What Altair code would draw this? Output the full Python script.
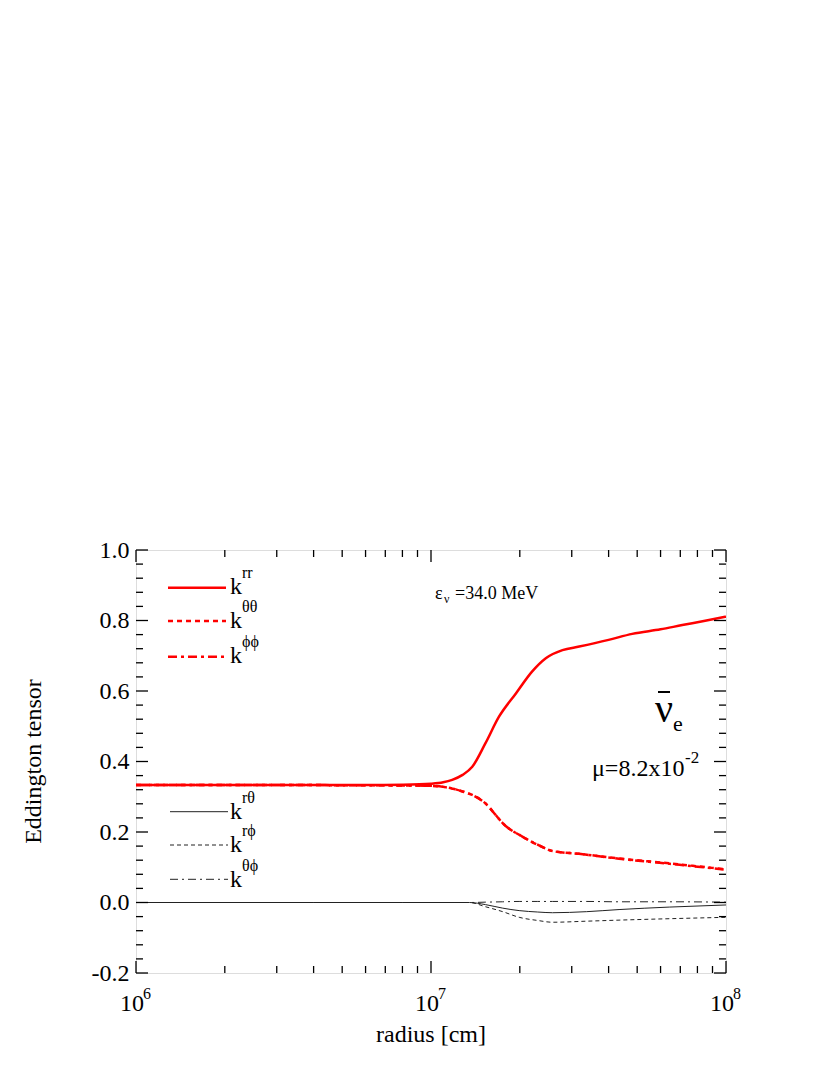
import altair as alt
import pandas as pd

FONT = "Liberation Serif"

# ---- data ----
r_rr = [1e6, 2e6, 4e6, 6e6, 8e6, 1.0e7, 1.1e7, 1.18e7, 1.28e7, 1.38e7, 1.53e7, 1.7e7,
        1.94e7, 2.2e7, 2.45e7, 2.79e7, 3.18e7, 4.0e7, 4.81e7, 6.0e7, 7.11e7, 8.5e7, 1.0e8]
k_rr = [0.333, 0.333, 0.333, 0.333, 0.334, 0.337, 0.341, 0.348, 0.362, 0.385, 0.452, 0.527,
        0.593, 0.655, 0.693, 0.716, 0.726, 0.745, 0.762, 0.775, 0.787, 0.799, 0.811]

r_tt = [1e6, 4e6, 8e6, 1.0e7, 1.1e7, 1.2e7, 1.3e7, 1.38e7, 1.53e7, 1.65e7, 1.75e7,
        2.04e7, 2.38e7, 2.58e7, 3.18e7, 4.34e7, 6.42e7, 1.0e8]
k_tt = [0.333, 0.333, 0.332, 0.331, 0.328, 0.322, 0.313, 0.305, 0.281, 0.250, 0.225,
        0.187, 0.158, 0.146, 0.138, 0.125, 0.111, 0.094]
k_pp = [0.333, 0.333, 0.332, 0.331, 0.328, 0.322, 0.313, 0.305, 0.281, 0.250, 0.225,
        0.187, 0.158, 0.146, 0.138, 0.124, 0.110, 0.093]

r_small = [1e6, 4e6, 8e6, 1.0e7, 1.2e7, 1.35e7, 1.53e7, 1.75e7, 1.99e7, 2.3e7, 2.58e7,
           3.37e7, 4.34e7, 6.42e7, 1.0e8]
k_rt = [0, 0, 0, 0, 0, 0, -0.006, -0.016, -0.023, -0.027, -0.029, -0.026, -0.020, -0.013, -0.007]
k_rp = [0, 0, 0, 0, 0, 0, -0.012, -0.026, -0.042, -0.051, -0.056, -0.053, -0.050, -0.046, -0.042]
k_tp = [0, 0, 0, 0, 0, 0, 0.001, 0.002, 0.003, 0.003, 0.003, 0.003, 0.002, 0.002, 0.001]

x_major = [1e6, 1e7, 1e8]
x_exp = ["6", "7", "8"]
x_minor = [m * 10 ** e for e in (6, 7) for m in range(2, 10)]
y_major = [-0.2, 0.0, 0.2, 0.4, 0.6, 0.8, 1.0]
y_minor = [round(-0.2 + 0.04 * i, 2) for i in range(31) if i % 5 != 0]

W, H = 590, 423

xs = alt.Scale(type="log", domain=[1e6, 1e8], nice=False)
ys = alt.Scale(domain=[-0.2, 1.0], nice=False, zero=False)
yaxis = alt.Axis(values=y_major,
                 labelExpr="datum.value < 0 ? '-' + format(-datum.value, '.1f') : format(datum.value, '.1f')",
                 labelFont=FONT, labelFontSize=24, labelColor="black", labelPadding=7,
                 ticks=False, tickSize=0, domain=False, grid=False, title=None)

one = pd.DataFrame({"a": [0]})


def line(r, k, color, width, dash=None):
    props = dict(color=color, strokeWidth=width, strokeCap="butt", clip=True,
                 interpolate="monotone")
    if dash:
        props["strokeDash"] = dash
    return alt.Chart(pd.DataFrame({"r": r, "k": k})).mark_line(**props).encode(
        x=alt.X("r:Q", scale=xs, axis=None),
        y=alt.Y("k:Q", scale=ys, axis=yaxis),
    )


def txt(t, x, y, size, align="left", angle=None):
    props = dict(text=t, x=x, y=y, fontSize=size, font=FONT, align=align,
                 baseline="alphabetic", color="black")
    if angle is not None:
        props["angle"] = angle
    return alt.Chart(one).mark_text(**props)


def seg(x1, x2, y, color, width, dash=None):
    props = dict(color=color, strokeWidth=width, strokeCap="butt")
    if dash:
        props["strokeDash"] = dash
    return alt.Chart(one).mark_rule(**props).encode(
        x=alt.value(x1), x2=alt.value(x2), y=alt.value(y))


RED = "#ff0000"
BLK = "#222222"
lines = [
    line(r_small, k_tp, BLK, 1, [8, 4, 2, 4]),
    line(r_small, k_rp, BLK, 1, [4, 3]),
    line(r_small, k_rt, BLK, 1),
    line(r_tt, k_pp, RED, 2.5, [9, 4, 3, 4]),
    line(r_tt, k_tt, RED, 2.5, [5, 4]),
    line(r_rr, k_rr, RED, 2.5),
]


# inward ticks on all four sides
def xticks(vals, L):
    d = pd.DataFrame({"v": vals})
    b = alt.Chart(d).mark_rule(color="black", strokeWidth=1.3).encode(
        x=alt.X("v:Q", scale=xs, axis=None), y=alt.value(H), y2=alt.value(H - L))
    t = alt.Chart(d).mark_rule(color="black", strokeWidth=1.3).encode(
        x=alt.X("v:Q", scale=xs, axis=None), y=alt.value(0), y2=alt.value(L))
    return [b, t]


def yticks(vals, L):
    d = pd.DataFrame({"v": vals})
    l = alt.Chart(d).mark_rule(color="black", strokeWidth=1.3).encode(
        y=alt.Y("v:Q", scale=ys, axis=yaxis), x=alt.value(0), x2=alt.value(L))
    r = alt.Chart(d).mark_rule(color="black", strokeWidth=1.3).encode(
        y=alt.Y("v:Q", scale=ys, axis=yaxis), x=alt.value(W - L), x2=alt.value(W))
    return [l, r]


ticks = xticks(x_major, 12) + xticks(x_minor, 7) + yticks(y_major, 12) + yticks(y_minor, 7)

xlab_df = pd.DataFrame({"v": x_major, "e": x_exp})
xlab = alt.Chart(xlab_df).mark_text(text="10", fontSize=24, font=FONT, align="center",
                                   baseline="alphabetic", dx=-4, color="black").encode(
    x=alt.X("v:Q", scale=xs, axis=None), y=alt.value(461))
xsup = alt.Chart(xlab_df).mark_text(fontSize=16, font=FONT, align="left",
                                   baseline="alphabetic", dx=7, color="black").encode(
    x=alt.X("v:Q", scale=xs, axis=None), y=alt.value(449), text="e:N")

annot = [
    txt("radius [cm]", 295, 492, 24, align="center"),
    txt("Eddington tensor", -95, H / 2, 24, align="center", angle=270),
    # upper legend
    seg(32, 90, 37.7, RED, 2.5),
    seg(32, 90, 71, RED, 2.5, [5, 4]),
    seg(32, 90, 106.7, RED, 2.5, [9, 4, 3, 4]),
    txt("k", 94, 44, 24), txt("rr", 106, 28, 16),
    txt("k", 94, 78, 24), txt("θθ", 106, 62, 16),
    txt("k", 94, 113, 24), txt("ϕϕ", 106, 97, 16),
    # lower legend
    seg(34, 92, 261.7, BLK, 1),
    seg(34, 92, 295, BLK, 1, [4, 3]),
    seg(34, 92, 329.3, BLK, 1, [8, 4, 2, 4]),
    txt("k", 94, 269, 24), txt("rθ", 106, 253, 16),
    txt("k", 94, 301.7, 24), txt("rϕ", 106, 286, 16),
    txt("k", 94, 336.7, 24), txt("θϕ", 106, 321, 16),
    # annotations
    txt("ε", 299, 49, 18), txt("ν", 308, 53, 12), txt("=34.0 MeV", 319, 49, 18),
    txt("ν", 519, 172, 40), seg(522, 534, 142, "black", 2), txt("e", 537, 181, 22),
    txt("μ=8.2x10", 456, 226, 24), txt("-2", 549, 213, 17),
]

chart = alt.layer(*lines, *ticks, xlab, xsup, *annot).properties(
    width=W, height=H,
    autosize=alt.AutoSizeParams(type="none"),
    padding={"left": 128, "top": 542, "right": 90, "bottom": 90},
).configure_view(stroke="black", strokeWidth=1.5).configure(background="white")

chart.save("out.html", embed_options={"renderer": "svg", "actions": False})
